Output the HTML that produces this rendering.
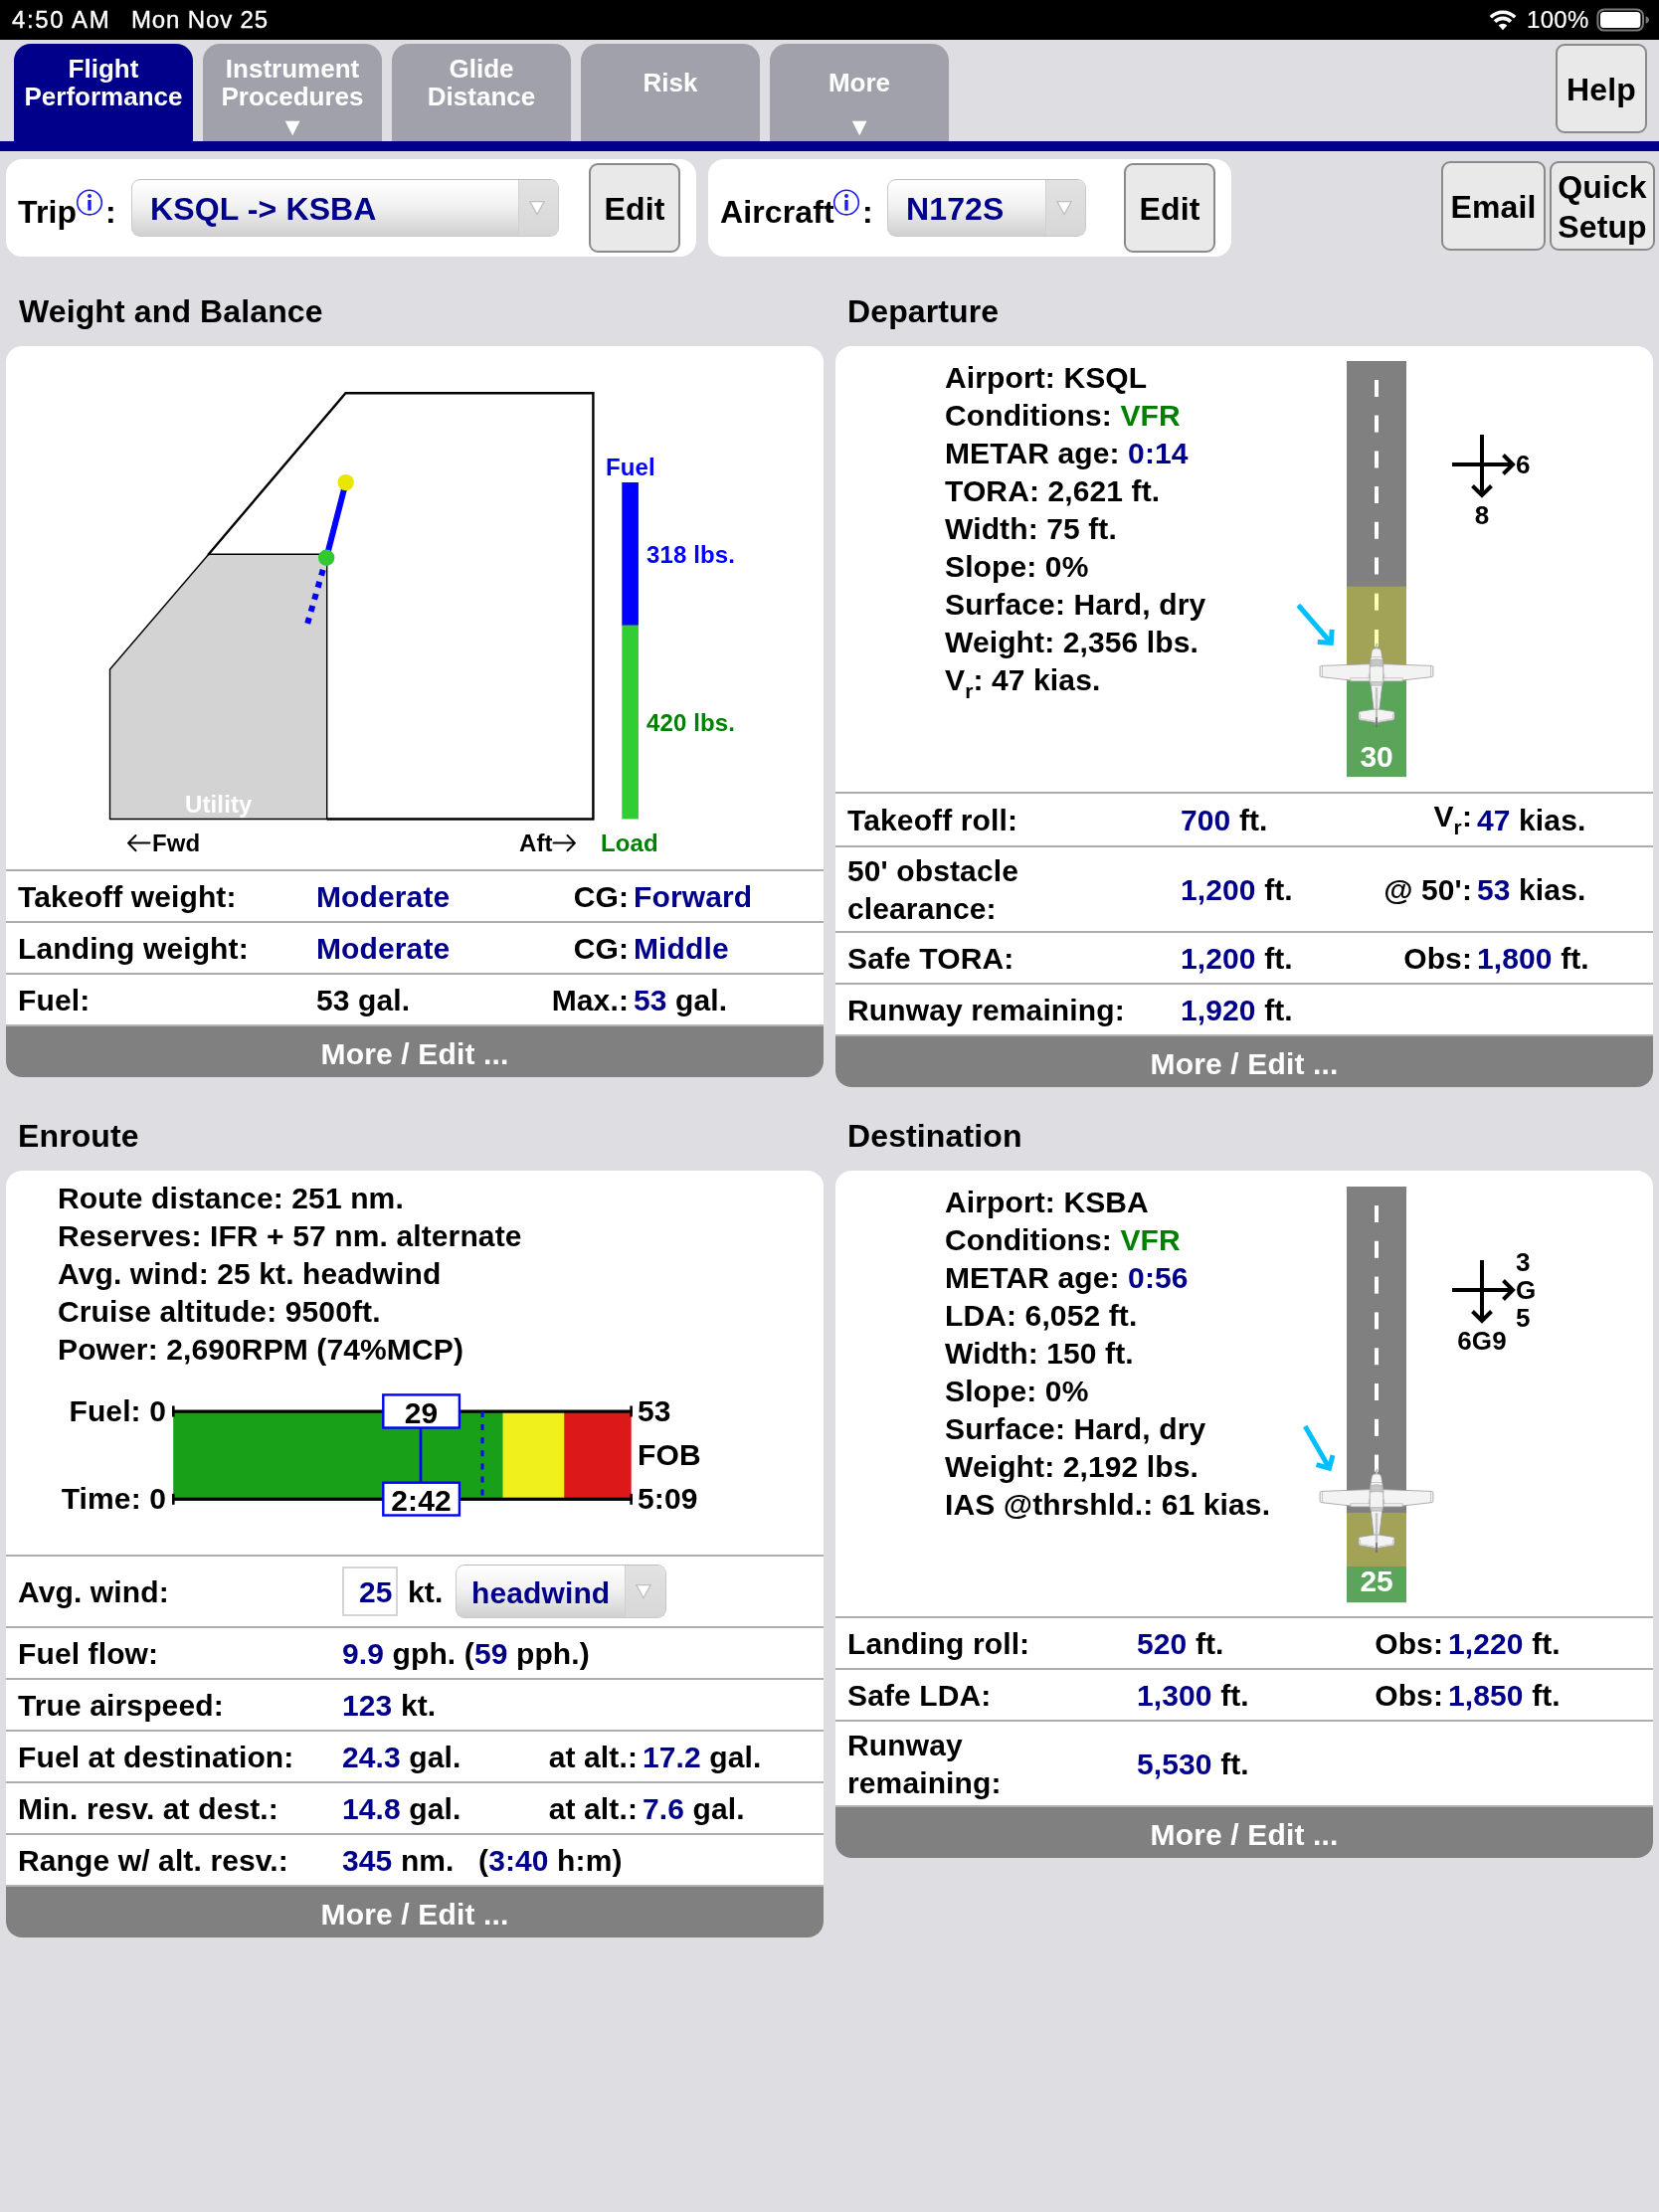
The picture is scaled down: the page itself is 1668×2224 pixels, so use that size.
<!DOCTYPE html>
<html>
<head>
<meta charset="utf-8">
<style>
*{box-sizing:border-box;margin:0;padding:0}
html,body{width:1668px;height:2224px;overflow:hidden}
body{background:#dddde2;font-family:"Liberation Sans",sans-serif;font-weight:bold;color:#000;position:relative;font-size:30px;letter-spacing:.12px;will-change:transform}
.abs{position:absolute}
.status{left:0;top:0;width:1668px;height:40px;background:#000;color:#fff;font-weight:normal;font-size:24px}
.tab{letter-spacing:0;top:44px;width:180px;height:98px;background:#a1a1ab;color:#fff;border-radius:17px 17px 0 0;text-align:center;font-size:26px;line-height:28px}
.tab.on{background:#00008b}
.tab .arr{position:absolute;left:0;width:100%;top:70px;font-size:25px;line-height:26px}
.bluebar{left:0;top:142px;width:1668px;height:10px;background:#00008b}
.btn{background:#e9e9e9;border:2px solid #8a8a8a;border-radius:9px;text-align:center;font-size:32px}
.wpanel{background:#fff;border-radius:16px}
.sel{border:1px solid #c9c9c9;border-top-color:#bcbcbc;border-radius:9px;background:linear-gradient(#ffffff,#f2f2f2 45%,#d0d0d0);color:#00008b;font-size:32px;overflow:hidden}
.sel .sep{position:absolute;top:0;bottom:0;right:0;background:linear-gradient(#e2e2e2,#d7d7d7);border-left:1px solid #d0d0d0}
.sel .tri{position:absolute}
.h{font-size:32px;line-height:40px;white-space:nowrap}
.panel{background:#fff;border-radius:16px;overflow:hidden}
.row{position:absolute;left:0;width:100%;border-top:2px solid #adadad;height:52px;line-height:38px;white-space:nowrap}
.row span{position:absolute}
.b{color:#00008b}
.more{position:absolute;left:0;width:100%;height:53px;border-top:2px solid #b2b2b2;background:#808080;color:#fff;text-align:center;line-height:55px;font-size:30px;letter-spacing:.15px}
.t{position:absolute;white-space:nowrap;line-height:38px}
.g{color:#008000}
sub{font-size:21px;vertical-align:baseline;position:relative;top:8px;line-height:0}
sup.i{font-size:20px;font-weight:normal;color:#1414d2;position:relative;top:-4px;vertical-align:super}
</style>
</head>
<body>
<!-- STATUS -->
<div class="abs status">
  <span class="abs" style="left:12px;top:6px;line-height:28px;letter-spacing:1.600px;-webkit-text-stroke:.35px #fff">4:50 AM</span>
  <span class="abs" style="left:132px;top:6px;line-height:28px;letter-spacing:.85px;-webkit-text-stroke:.35px #fff">Mon Nov 25</span>
  <span class="abs" style="left:1535px;top:6px;line-height:28px;letter-spacing:.3px;-webkit-text-stroke:.2px #fff">100%</span>
  <svg class="abs" style="left:1494px;top:6px" width="34" height="28" viewBox="1494 6 34 28">
    <g fill="none" stroke="#fff" stroke-width="3.6">
      <path d="M1498.8,17.300 A17.200,17.200 0 0 1 1523.200,17.300"/>
      <path d="M1503.100,21.700 A11,11 0 0 1 1518.900,21.700"/>
    </g>
    <path d="M1506.600,25.600 A6.200,6.200 0 0 1 1515.400,25.600 L1511,30.200 Z" fill="#fff"/>
  </svg>
  <svg class="abs" style="left:1603px;top:6px" width="60" height="28" viewBox="1603 6 60 28">
    <rect x="1606.400" y="9.400" width="45.600" height="21.200" rx="6.500" fill="none" stroke="#7a7a7a" stroke-width="2"/>
    <rect x="1609" y="12" width="40.400" height="16" rx="3.500" fill="#fff"/>
    <path d="M1654.600,16.300 Q1658,17.500 1658,20 Q1658,22.500 1654.600,23.700 Z" fill="#7a7a7a"/>
  </svg>
</div>
<!-- TABS -->
<div class="abs tab on" style="left:14px"><div style="padding-top:11px">Flight<br>Performance</div></div>
<div class="abs tab" style="left:204px"><div style="padding-top:11px">Instrument<br>Procedures</div><div class="arr">&#9660;</div></div>
<div class="abs tab" style="left:394px"><div style="padding-top:11px">Glide<br>Distance</div></div>
<div class="abs tab" style="left:584px"><div style="padding-top:25px">Risk</div></div>
<div class="abs tab" style="left:774px"><div style="padding-top:25px">More</div><div class="arr">&#9660;</div></div>
<div class="abs btn" style="left:1564px;top:44px;width:92px;height:90px;line-height:88px">Help</div>
<div class="abs bluebar"></div>
<!-- TRIP / AIRCRAFT -->
<div class="abs wpanel" style="left:6px;top:160px;width:694px;height:98px"></div>
<div class="abs wpanel" style="left:712px;top:160px;width:526px;height:98px"></div>

<!-- trip row contents -->
<div class="abs h" style="left:18px;top:193px">Trip</div><svg class="abs" style="left:75px;top:189px" width="30" height="30" viewBox="0 0 30 30"><circle cx="15" cy="14.600" r="12.300" fill="none" stroke="#1c1cf0" stroke-width="1.600"/><rect x="13.300" y="12" width="3.400" height="10.600" fill="#1c1cf0"/><circle cx="15" cy="8" r="2" fill="#1c1cf0"/></svg><div class="abs h" style="left:106px;top:193px">:</div>
<div class="abs sel" style="left:132px;top:180px;width:430px;height:58px">
  <span class="abs" style="left:18px;top:10px;line-height:38px">KSQL -&gt; KSBA</span>
  <div class="sep" style="left:388px"></div>
  <svg class="tri" style="left:398px;top:19px" width="18" height="18" viewBox="0 0 18 18"><path d="M1.800 2.600 L16.200 2.600 L9 15.600 Z" fill="#fff" stroke="#bdbdbd" stroke-width="1.200"/></svg>
</div>
<div class="abs btn" style="left:592px;top:164px;width:92px;height:90px;line-height:89px">Edit</div>
<div class="abs h" style="left:724px;top:193px">Aircraft</div><svg class="abs" style="left:836px;top:189px" width="30" height="30" viewBox="0 0 30 30"><circle cx="15" cy="14.600" r="12.300" fill="none" stroke="#1c1cf0" stroke-width="1.600"/><rect x="13.300" y="12" width="3.400" height="10.600" fill="#1c1cf0"/><circle cx="15" cy="8" r="2" fill="#1c1cf0"/></svg><div class="abs h" style="left:867px;top:193px">:</div>
<div class="abs sel" style="left:892px;top:180px;width:200px;height:58px">
  <span class="abs" style="left:18px;top:10px;line-height:38px">N172S</span>
  <div class="sep" style="left:158px"></div>
  <svg class="tri" style="left:168px;top:19px" width="18" height="18" viewBox="0 0 18 18"><path d="M1.800 2.600 L16.200 2.600 L9 15.600 Z" fill="#fff" stroke="#bdbdbd" stroke-width="1.200"/></svg>
</div>
<div class="abs btn" style="left:1130px;top:164px;width:92px;height:90px;line-height:89px">Edit</div>
<div class="abs btn" style="left:1449px;top:162px;width:105px;height:90px;line-height:89px">Email</div>
<div class="abs btn" style="left:1558px;top:162px;width:106px;height:90px;line-height:40px;padding-top:4px">Quick<br>Setup</div>

<!-- section titles -->
<div class="abs h" style="left:19px;top:293px">Weight and Balance</div>
<div class="abs h" style="left:852px;top:293px">Departure</div>
<div class="abs h" style="left:18px;top:1122px">Enroute</div>
<div class="abs h" style="left:852px;top:1122px">Destination</div>

<!-- WB panel -->
<div class="abs panel" id="wb" style="left:6px;top:348px;width:822px;height:735px">

<svg class="abs" style="left:0;top:0" width="822" height="526" viewBox="0 0 822 526">
  <polygon points="104.500,325 203.800,209.200 322.700,209.200 322.700,475.500 104.500,475.500" fill="#d3d3d3" stroke="#000" stroke-width="1.400"/>
  <polyline points="203.100,210 341.500,47.200 590.400,47.200 590.400,475.500 322.700,475.500" fill="none" stroke="#000" stroke-width="2.400" stroke-linejoin="miter"/>
  <line x1="322.2" y1="212.8" x2="303.1" y2="279.1" stroke="#0000ff" stroke-width="6" stroke-dasharray="6 6.55"/>
  <line x1="341.7" y1="137.1" x2="322.2" y2="212.8" stroke="#0000ff" stroke-width="6"/>
  <circle cx="341.7" cy="137.1" r="8.2" fill="#e9e600"/>
  <circle cx="322.2" cy="212.8" r="8.2" fill="#32c832"/>
  <rect x="619.3" y="137" width="16.6" height="144" fill="#0000ff"/>
  <rect x="619.3" y="280.5" width="16.6" height="195" fill="#32cd32"/>
  <g stroke="#000" stroke-width="2" fill="none" stroke-linecap="round" stroke-linejoin="round">
    <path d="M144.500 499.600 H123.500 M130.500 492 L123 499.600 L130.500 507.200"/>
    <path d="M550.500 499.600 H571.500 M564.500 492 L572 499.600 L564.500 507.200"/>
  </g>
</svg>
<span class="t" style="left:180px;top:442px;font-size:24px;color:#fff">Utility</span>
<span class="t" style="left:147px;top:481px;font-size:24px">Fwd</span>
<span class="t" style="left:516px;top:481px;font-size:24px">Aft</span>
<span class="t" style="left:598px;top:481px;font-size:24px;color:#008000">Load</span>
<span class="t" style="left:603px;top:103px;font-size:24px;color:#0000ff">Fuel</span>
<span class="t" style="left:644px;top:191px;font-size:24px;color:#0000ff">318 lbs.</span>
<span class="t" style="left:644px;top:360px;font-size:24px;color:#008000">420 lbs.</span>
<div class="row" style="top:526px"><span style="left:12px;top:7px">Takeoff weight:</span><span class="b" style="left:312px;top:7px">Moderate</span><span style="right:196px;top:7px">CG:</span><span class="b" style="left:631px;top:7px">Forward</span></div>
<div class="row" style="top:578px"><span style="left:12px;top:7px">Landing weight:</span><span class="b" style="left:312px;top:7px">Moderate</span><span style="right:196px;top:7px">CG:</span><span class="b" style="left:631px;top:7px">Middle</span></div>
<div class="row" style="top:630px"><span style="left:12px;top:7px">Fuel:</span><span style="left:312px;top:7px">53 gal.</span><span style="right:196px;top:7px">Max.:</span><span style="left:631px;top:7px"><b class="b">53</b> gal.</span></div>
<div class="more" style="top:682px">More / Edit ...</div>

</div>
<!-- DEP panel -->
<div class="abs panel" id="dep" style="left:840px;top:348px;width:822px;height:745px">

<span class="t" style="left:110px;top:13px">Airport: KSQL</span>
<span class="t" style="left:110px;top:51px">Conditions: <b class="g">VFR</b></span>
<span class="t" style="left:110px;top:89px">METAR age: <b class="b">0:14</b></span>
<span class="t" style="left:110px;top:127px">TORA: 2,621 ft.</span>
<span class="t" style="left:110px;top:165px">Width: 75 ft.</span>
<span class="t" style="left:110px;top:203px">Slope: 0%</span>
<span class="t" style="left:110px;top:241px">Surface: Hard, dry</span>
<span class="t" style="left:110px;top:279px">Weight: 2,356 lbs.</span>
<span class="t" style="left:110px;top:317px">V<sub>r</sub>: 47 kias.</span>
<svg class="abs" style="left:440px;top:0" width="300" height="450" viewBox="440 0 300 450">
  
  <rect x="514" y="15" width="60" height="227" fill="#808080"/>
  <rect x="514" y="241.7" width="60" height="96" fill="#a3a358"/>
  <rect x="514" y="336.8" width="60" height="96.3" fill="#5aa55a"/>
  <g fill="#fff"><rect x="542" y="34" width="4" height="17"/><rect x="542" y="69.6" width="4" height="17"/><rect x="542" y="105.5" width="4" height="17"/><rect x="542" y="141" width="4" height="17"/><rect x="542" y="176.8" width="4" height="17"/><rect x="542" y="212.5" width="4" height="17"/></g>
  <g fill="#ffffb0"><rect x="542" y="248.7" width="4" height="17"/><rect x="542" y="285" width="4" height="17"/></g>
  <g transform="translate(544,319.6)" fill="#f3f3f3" stroke="#9a9a9a" stroke-width="0.8" stroke-linejoin="round">
  <path d="M-0.9,-15.5 L-0.3,-19.5 Q0.4,-21 0.9,-20.4 L1,-15.5 Z" fill="#e4e4e4" stroke-width="0.6"/>
  <path d="M-56.900,3.200 Q-56.900,1.900 -55,1.800 L-6,0 L6,0 L55,1.800 Q56.900,1.900 56.900,3.200 L56.900,11.500 Q56.900,12.900 55,13.100 L26.200,16.400 L26.200,17.300 L-26.200,17.300 L-26.200,16.400 L-55,13.100 Q-56.900,12.900 -56.900,11.500 Z"/>
  <path d="M-54.500,2.200 L-54.500,12.800 M54.500,2.200 L54.500,12.800 M-26.200,14.100 L-7,14.100 M26.200,14.100 L7,14.100 M-26.200,14.100 L-26.200,16.400 M26.200,14.100 L26.200,16.400" fill="none" stroke-width="0.5"/>
  <path d="M-7.700,10.500 h1.500 v3.600 h-1.500 Z M7.700,10.500 h-1.500 v3.600 h1.500 Z" stroke-width="0.5"/>
  <path d="M-5,-11.500 Q-4.800,-15.800 0,-15.800 Q4.800,-15.800 5,-11.500 L6.100,-4 L6.800,0 L6.800,17.500 L5.600,22 L1.700,56 L0.900,62 L-0.900,62 L-1.700,56 L-5.600,22 L-6.800,17.500 L-6.800,0 L-6.100,-4 Z"/>
  <path d="M-5.400,-7.100 L5.400,-7.100" fill="none" stroke-width="0.5"/>
  <path d="M-5.800,-3.800 Q0,-6 5.800,-3.800 L6.300,2.600 Q0,1.400 -6.300,2.600 Z" fill="#c6c6c6" stroke-width="0.5"/>
  <path d="M-5.700,18 L5.700,18 L5.200,21.600 L-5.200,21.600 Z" fill="#cfcfcf" stroke-width="0.5"/>
  <path d="M-2.200,45.500 L-16.400,47.700 Q-18,48 -18,49.500 L-18,54.500 Q-18,56 -16.500,56.300 L-3,58.600 L3,58.600 L16.500,56.300 Q18,56 18,54.500 L18,49.500 Q18,48 16.400,47.700 L2.200,45.500 Z"/>
  <path d="M-16.500,50 L-16.500,55 M16.500,50 L16.500,55 M-16.500,55 L-2.500,57.300 M16.500,55 L2.500,57.300" fill="none" stroke-width="0.45"/>
  <path d="M-0.800,24 L-0.600,60 L0,62.900 L0.600,60 L0.800,24 Z" fill="#dedede" stroke="#8a8a8a" stroke-width="0.45"/>
  <path d="M0,53.500 L0,62.900" stroke="#3c3c3c" stroke-width="1" fill="none"/>
</g>
  <g stroke="#000" stroke-width="4" fill="none" stroke-linejoin="miter">
    <path d="M620,119 H680 M650,89 V149"/>
    <path d="M671.5,109.5 L681,119 L671.5,128.500"/>
    <path d="M640.5,140.5 L650,150 L659.500,140.500"/>
  </g>
  <g stroke="#00bfff" stroke-width="5" fill="none"><path d="M465.3,260.5 L498.3,298.3"/><path d="M484.8,297.4 L498.3,298.3 L499.2,284.8" stroke-linejoin="miter"/></g>
</svg>
<span class="t" style="left:514px;top:394px;width:60px;text-align:center;color:#fff;font-size:30px;letter-spacing:-.3px">30</span>
<span class="t" style="left:684px;top:100px;font-size:26px">6</span>
<span class="t" style="left:630px;top:151px;width:40px;text-align:center;font-size:26px">8</span>
<div class="row" style="top:448px;height:54px"><span style="left:12px;top:8px">Takeoff roll:</span><span style="left:347px;top:8px"><b class="b">700</b> ft.</span><span style="right:182px;top:4px">V<sub>r</sub>:</span><span style="left:645px;top:8px"><b class="b">47</b> kias.</span></div>
<div class="row" style="top:502px;height:86px"><span style="left:12px;top:5px;line-height:37.5px">50' obstacle<br>clearance:</span><span style="left:347px;top:24px"><b class="b">1,200</b> ft.</span><span style="right:182px;top:24px">@ 50':</span><span style="left:645px;top:24px"><b class="b">53</b> kias.</span></div>
<div class="row" style="top:588px"><span style="left:12px;top:7px">Safe TORA:</span><span style="left:347px;top:7px"><b class="b">1,200</b> ft.</span><span style="right:182px;top:7px">Obs:</span><span style="left:645px;top:7px"><b class="b">1,800</b> ft.</span></div>
<div class="row" style="top:640px"><span style="left:12px;top:7px">Runway remaining:</span><span style="left:347px;top:7px"><b class="b">1,920</b> ft.</span></div>
<div class="more" style="top:692px">More / Edit ...</div>

</div>
<!-- ENR panel -->
<div class="abs panel" id="enr" style="left:6px;top:1177px;width:822px;height:771px">

<span class="t" style="left:52px;top:9px">Route distance: 251 nm.</span>
<span class="t" style="left:52px;top:47px">Reserves: IFR + 57 nm. alternate</span>
<span class="t" style="left:52px;top:85px">Avg. wind: 25 kt. headwind</span>
<span class="t" style="left:52px;top:123px">Cruise altitude: 9500ft.</span>
<span class="t" style="left:52px;top:161px">Power: 2,690RPM (74%MCP)</span>
<svg class="abs" style="left:0;top:210px" width="822" height="160" viewBox="0 210 822 160">
  <rect x="168.2" y="242" width="337.3" height="88" fill="#18a018"/>
  <rect x="499.500" y="242" width="62" height="88" fill="#f0f01c"/>
  <rect x="561.200" y="242" width="67.500" height="88" fill="#dc1818"/>
  <rect x="167" y="240.500" width="463" height="3.200" fill="#000"/>
  <rect x="167" y="328.700" width="463" height="3.200" fill="#000"/>
  <rect x="167" y="236.500" width="2.600" height="11" fill="#000"/><rect x="627.300" y="236.500" width="2.600" height="11" fill="#000"/>
  <rect x="167" y="324.800" width="2.600" height="11" fill="#000"/><rect x="627.300" y="324.800" width="2.600" height="11" fill="#000"/>
  <line x1="479" y1="242" x2="479" y2="329" stroke="#0000ff" stroke-width="3" stroke-dasharray="6 7.100"/>
  <line x1="417" y1="258" x2="417" y2="314" stroke="#0000ff" stroke-width="2.600"/>
  <rect x="379.300" y="225.400" width="76.600" height="33.100" fill="#fff" stroke="#0000ff" stroke-width="2.400"/>
  <rect x="379.300" y="313.700" width="76.600" height="32.800" fill="#fff" stroke="#0000ff" stroke-width="2.400"/>
</svg>
<span class="t" style="right:661px;top:223px">Fuel: 0</span>
<span class="t" style="right:661px;top:311px">Time: 0</span>
<span class="t" style="left:378px;top:225px;width:79px;text-align:center">29</span>
<span class="t" style="left:378px;top:313px;width:79px;text-align:center">2:42</span>
<span class="t" style="left:635px;top:223px">53</span>
<span class="t" style="left:635px;top:267px">FOB</span>
<span class="t" style="left:635px;top:311px">5:09</span>
<div class="row" style="top:386px;height:72px"><span style="left:12px;top:17px">Avg. wind:</span>
  <div class="abs" style="left:338px;top:10px;width:56px;height:50px;border:2px solid #d4d4d4;background:#fff"></div>
  <span class="b" style="left:355px;top:17px">25</span><span style="left:404px;top:17px">kt.</span>
  <div class="abs sel" style="left:452px;top:8px;width:212px;height:54px;font-size:30px">
    <span class="abs" style="left:15px;top:9px;line-height:38px">headwind</span>
    <div class="sep" style="left:169px"></div>
    <svg class="tri" style="left:179px;top:17px" width="18" height="18" viewBox="0 0 18 18"><path d="M1.800 2.600 L16.200 2.600 L9 15.600 Z" fill="#fff" stroke="#bdbdbd" stroke-width="1.200"/></svg>
  </div>
</div>
<div class="row" style="top:458px"><span style="left:12px;top:7px">Fuel flow:</span><span style="left:338px;top:7px"><b class="b">9.9</b> gph. (<b class="b">59</b> pph.)</span></div>
<div class="row" style="top:510px"><span style="left:12px;top:7px">True airspeed:</span><span style="left:338px;top:7px"><b class="b">123</b> kt.</span></div>
<div class="row" style="top:562px"><span style="left:12px;top:7px">Fuel at destination:</span><span style="left:338px;top:7px"><b class="b">24.3</b> gal.</span><span style="right:187px;top:7px">at alt.:</span><span style="left:640px;top:7px"><b class="b">17.2</b> gal.</span></div>
<div class="row" style="top:614px"><span style="left:12px;top:7px">Min. resv. at dest.:</span><span style="left:338px;top:7px"><b class="b">14.8</b> gal.</span><span style="right:187px;top:7px">at alt.:</span><span style="left:640px;top:7px"><b class="b">7.6</b> gal.</span></div>
<div class="row" style="top:666px"><span style="left:12px;top:7px">Range w/ alt. resv.:</span><span style="left:338px;top:7px"><b class="b">345</b> nm.</span><span style="left:475px;top:7px">(<b class="b">3:40</b> h:m)</span></div>
<div class="more" style="top:718px">More / Edit ...</div>

</div>
<!-- DEST panel -->
<div class="abs panel" id="dst" style="left:840px;top:1177px;width:822px;height:691px">

<span class="t" style="left:110px;top:13px">Airport: KSBA</span>
<span class="t" style="left:110px;top:51px">Conditions: <b class="g">VFR</b></span>
<span class="t" style="left:110px;top:89px">METAR age: <b class="b">0:56</b></span>
<span class="t" style="left:110px;top:127px">LDA: 6,052 ft.</span>
<span class="t" style="left:110px;top:165px">Width: 150 ft.</span>
<span class="t" style="left:110px;top:203px">Slope: 0%</span>
<span class="t" style="left:110px;top:241px">Surface: Hard, dry</span>
<span class="t" style="left:110px;top:279px">Weight: 2,192 lbs.</span>
<span class="t" style="left:110px;top:317px">IAS @thrshld.: 61 kias.</span>
<svg class="abs" style="left:440px;top:0" width="300" height="450" viewBox="440 0 300 450">
  <rect x="514" y="16" width="60" height="328" fill="#808080"/>
  <rect x="514" y="343.900" width="60" height="55" fill="#a3a358"/>
  <rect x="514" y="398" width="60" height="36.200" fill="#5aa55a"/>
  <g fill="#fff"><rect x="542" y="35" width="4" height="17"/><rect x="542" y="70.800" width="4" height="17"/><rect x="542" y="106.600" width="4" height="17"/><rect x="542" y="142.400" width="4" height="17"/><rect x="542" y="178.200" width="4" height="17"/><rect x="542" y="214" width="4" height="17"/><rect x="542" y="249.800" width="4" height="17"/><rect x="542" y="285.600" width="4" height="17"/></g>
  <g transform="translate(544,320.6)" fill="#f3f3f3" stroke="#9a9a9a" stroke-width="0.8" stroke-linejoin="round">
  <path d="M-0.9,-15.5 L-0.3,-19.5 Q0.4,-21 0.9,-20.4 L1,-15.5 Z" fill="#e4e4e4" stroke-width="0.6"/>
  <path d="M-56.900,3.200 Q-56.900,1.900 -55,1.800 L-6,0 L6,0 L55,1.800 Q56.900,1.900 56.900,3.200 L56.900,11.500 Q56.900,12.900 55,13.100 L26.200,16.400 L26.200,17.300 L-26.200,17.300 L-26.200,16.400 L-55,13.100 Q-56.900,12.900 -56.900,11.500 Z"/>
  <path d="M-54.500,2.200 L-54.500,12.800 M54.500,2.200 L54.500,12.800 M-26.200,14.100 L-7,14.100 M26.200,14.100 L7,14.100 M-26.200,14.100 L-26.200,16.400 M26.200,14.100 L26.200,16.400" fill="none" stroke-width="0.5"/>
  <path d="M-7.700,10.500 h1.500 v3.600 h-1.500 Z M7.700,10.500 h-1.500 v3.600 h1.500 Z" stroke-width="0.5"/>
  <path d="M-5,-11.500 Q-4.800,-15.800 0,-15.800 Q4.800,-15.800 5,-11.500 L6.100,-4 L6.800,0 L6.800,17.500 L5.600,22 L1.700,56 L0.900,62 L-0.900,62 L-1.700,56 L-5.600,22 L-6.800,17.500 L-6.800,0 L-6.100,-4 Z"/>
  <path d="M-5.400,-7.100 L5.400,-7.100" fill="none" stroke-width="0.5"/>
  <path d="M-5.800,-3.800 Q0,-6 5.800,-3.800 L6.300,2.600 Q0,1.400 -6.300,2.600 Z" fill="#c6c6c6" stroke-width="0.5"/>
  <path d="M-5.700,18 L5.700,18 L5.200,21.600 L-5.200,21.600 Z" fill="#cfcfcf" stroke-width="0.5"/>
  <path d="M-2.200,45.500 L-16.400,47.700 Q-18,48 -18,49.500 L-18,54.500 Q-18,56 -16.500,56.300 L-3,58.600 L3,58.600 L16.500,56.300 Q18,56 18,54.500 L18,49.500 Q18,48 16.400,47.700 L2.200,45.500 Z"/>
  <path d="M-16.500,50 L-16.500,55 M16.500,50 L16.500,55 M-16.500,55 L-2.500,57.300 M16.500,55 L2.500,57.300" fill="none" stroke-width="0.45"/>
  <path d="M-0.800,24 L-0.600,60 L0,62.900 L0.600,60 L0.800,24 Z" fill="#dedede" stroke="#8a8a8a" stroke-width="0.45"/>
  <path d="M0,53.500 L0,62.900" stroke="#3c3c3c" stroke-width="1" fill="none"/>
</g>
  <g stroke="#000" stroke-width="4" fill="none" stroke-linejoin="miter">
    <path d="M620,120 H680 M650,90 V150"/>
    <path d="M671.500,110.500 L681,120 L671.500,129.500"/>
    <path d="M640.500,141.500 L650,151 L659.500,141.500"/>
  </g>
  <g stroke="#00bfff" stroke-width="5" fill="none"><path d="M472.2,257.1 L496.5,299.1"/><path d="M483.5,295.6 L496.5,299.1 L500.0,286.1" stroke-linejoin="miter"/></g>
</svg>
<span class="t" style="left:514px;top:394px;width:60px;text-align:center;color:#fff;font-size:30px;letter-spacing:-.3px">25</span>
<span class="t" style="left:684px;top:73px;font-size:26px">3</span>
<span class="t" style="left:684px;top:101px;font-size:26px">G</span>
<span class="t" style="left:684px;top:129px;font-size:26px">5</span>
<span class="t" style="left:610px;top:152px;width:80px;text-align:center;font-size:26px">6G9</span>
<div class="row" style="top:448px"><span style="left:12px;top:7px">Landing roll:</span><span style="left:303px;top:7px"><b class="b">520</b> ft.</span><span style="right:211px;top:7px">Obs:</span><span style="left:616px;top:7px"><b class="b">1,220</b> ft.</span></div>
<div class="row" style="top:500px"><span style="left:12px;top:7px">Safe LDA:</span><span style="left:303px;top:7px"><b class="b">1,300</b> ft.</span><span style="right:211px;top:7px">Obs:</span><span style="left:616px;top:7px"><b class="b">1,850</b> ft.</span></div>
<div class="row" style="top:552px;height:86px"><span style="left:12px;top:5px;line-height:37.500px">Runway<br>remaining:</span><span style="left:303px;top:24px"><b class="b">5,530</b> ft.</span></div>
<div class="more" style="top:638px">More / Edit ...</div>

</div>

</body>
</html>
